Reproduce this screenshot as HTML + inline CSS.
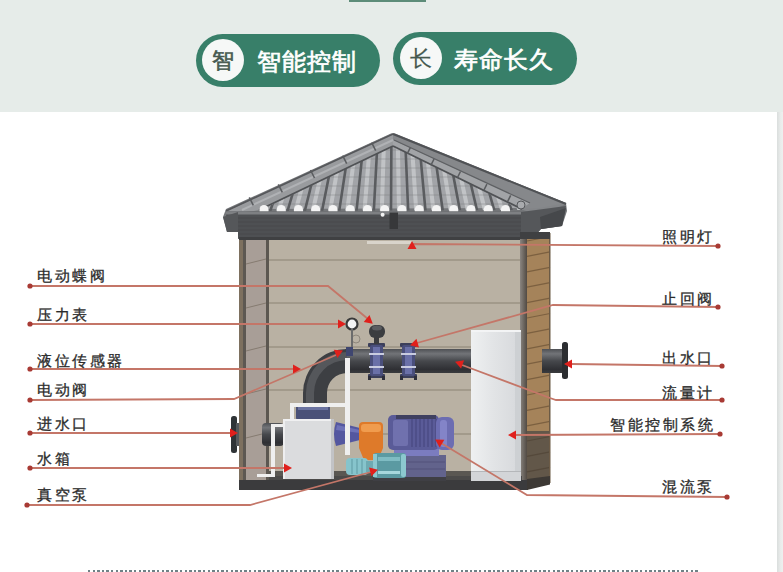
<!DOCTYPE html>
<html><head><meta charset="utf-8">
<style>
html,body{margin:0;padding:0;}
body{width:783px;height:572px;position:relative;overflow:hidden;background:#fff;font-family:"Liberation Sans",sans-serif;}
.band{position:absolute;left:0;top:0;width:783px;height:112px;background:#e6ece9;}
.topbar{position:absolute;left:349px;top:0;width:77px;height:2px;background:#5d8c79;}
.pill{position:absolute;height:53px;width:184px;border-radius:27px;background:#387f69;}
.circ{position:absolute;width:42px;height:42px;border-radius:50%;background:#f6f8f7;color:#46594f;font-size:22px;line-height:43px;text-align:center;-webkit-text-stroke:0.6px #46594f;}
.ptxt{position:absolute;color:#fff;font-size:24px;line-height:30px;white-space:nowrap;letter-spacing:1px;}
.lbl{position:absolute;color:#2b2b2b;font-size:15px;line-height:16px;letter-spacing:2.6px;white-space:nowrap;-webkit-text-stroke:0.3px #2b2b2b;}
.rstrip{position:absolute;left:777px;top:112px;width:6px;height:460px;background:linear-gradient(90deg,#dadedd,#e9eceb 60%,#eef0ef);}
.dots{position:absolute;left:88px;top:570px;width:611px;height:2px;background:repeating-linear-gradient(90deg,#6f8186 0 2.4px,transparent 2.4px 4.6px);}
svg{position:absolute;left:0;top:0;}
</style></head><body>
<div class="band"></div>
<div class="topbar"></div>
<div class="pill" style="left:196px;top:34px;"></div>
<div class="circ" style="left:202px;top:39px;">智</div>
<div class="ptxt" style="left:257px;top:47px;-webkit-text-stroke:0.7px #fff;">智能控制</div>
<div class="pill" style="left:393px;top:32px;"></div>
<div class="circ" style="left:400px;top:37px;-webkit-text-stroke:0.2px #46594f;">长</div>
<div class="ptxt" style="left:454px;top:45px;-webkit-text-stroke:0.7px #fff;">寿命长久</div>
<div class="rstrip"></div>
<div class="dots"></div>
<svg width="783" height="572" viewBox="0 0 783 572">
<defs>
<linearGradient id="pipev" x1="0" y1="0" x2="0" y2="1"><stop offset="0" stop-color="#4e5054"/><stop offset="0.2" stop-color="#727478"/><stop offset="0.5" stop-color="#46484c"/><stop offset="0.85" stop-color="#2f3034"/><stop offset="1" stop-color="#3a3b3e"/></linearGradient>
<linearGradient id="edgeg" x1="0" y1="0" x2="1" y2="0"><stop offset="0" stop-color="#8a8580"/><stop offset="1" stop-color="#514a43"/></linearGradient>
<linearGradient id="cabg" x1="0" y1="0" x2="1" y2="0"><stop offset="0" stop-color="#eef0f1"/><stop offset="0.5" stop-color="#e2e4e6"/><stop offset="1" stop-color="#d8dadd"/></linearGradient><clipPath id="tri"><polygon points="259,211 393,145 521,210"/></clipPath></defs>
<polygon points="223,217 226,209 391,133.5 395,133.5 566,203 567,211 562,226 541,229 535,235 520,239 238,239 238,232 227,232" fill="#747679"/><polygon points="394,137 566,204 541,216 520,209" fill="#838588"/><polygon points="259,209 393,143 521,208" fill="#a3a5a8"/><g stroke="#c2c4c6" stroke-width="4" clip-path="url(#tri)"><line x1="261.0" y1="211" x2="287.4" y2="140"/><line x1="278.2" y1="211" x2="301.2" y2="140"/><line x1="295.5" y1="211" x2="315.0" y2="140"/><line x1="312.8" y1="211" x2="328.8" y2="140"/><line x1="330.0" y1="211" x2="342.6" y2="140"/><line x1="347.2" y1="211" x2="356.4" y2="140"/><line x1="364.5" y1="211" x2="370.2" y2="140"/><line x1="381.8" y1="211" x2="384.0" y2="140"/><line x1="399.0" y1="211" x2="397.8" y2="140"/><line x1="416.2" y1="211" x2="411.6" y2="140"/><line x1="433.5" y1="211" x2="425.4" y2="140"/><line x1="450.8" y1="211" x2="439.2" y2="140"/><line x1="468.0" y1="211" x2="453.0" y2="140"/><line x1="485.2" y1="211" x2="466.8" y2="140"/><line x1="502.5" y1="211" x2="480.6" y2="140"/><line x1="519.8" y1="211" x2="494.4" y2="140"/></g><g stroke="#7a7c7f" stroke-width="1" clip-path="url(#tri)" opacity="0.45"><line x1="200" y1="150" x2="600" y2="150"/><line x1="200" y1="159" x2="600" y2="159"/><line x1="200" y1="168" x2="600" y2="168"/><line x1="200" y1="177" x2="600" y2="177"/><line x1="200" y1="186" x2="600" y2="186"/><line x1="200" y1="195" x2="600" y2="195"/><line x1="200" y1="204" x2="600" y2="204"/></g><g stroke="#5a5c5f" stroke-width="2.6" clip-path="url(#tri)"><line x1="253.0" y1="211" x2="281.0" y2="140"/><line x1="270.2" y1="211" x2="294.8" y2="140"/><line x1="287.5" y1="211" x2="308.6" y2="140"/><line x1="304.8" y1="211" x2="322.4" y2="140"/><line x1="322.0" y1="211" x2="336.2" y2="140"/><line x1="339.2" y1="211" x2="350.0" y2="140"/><line x1="356.5" y1="211" x2="363.8" y2="140"/><line x1="373.8" y1="211" x2="377.6" y2="140"/><line x1="391.0" y1="211" x2="391.4" y2="140"/><line x1="408.2" y1="211" x2="405.2" y2="140"/><line x1="425.5" y1="211" x2="419.0" y2="140"/><line x1="442.8" y1="211" x2="432.8" y2="140"/><line x1="460.0" y1="211" x2="446.6" y2="140"/><line x1="477.2" y1="211" x2="460.4" y2="140"/><line x1="494.5" y1="211" x2="474.2" y2="140"/><line x1="511.8" y1="211" x2="488.0" y2="140"/></g><polygon points="225,212 393,133 393,146 261,210 245,212" fill="#999b9e"/><line x1="226" y1="211" x2="393" y2="134" stroke="#55575a" stroke-width="1.6"/><line x1="259" y1="210" x2="393" y2="146" stroke="#505255" stroke-width="1.8"/><line x1="242" y1="210" x2="393" y2="140" stroke="#b0b2b5" stroke-width="2"/><polygon points="393,133.5 566,203 540,208 521,209 393,146" fill="#86888b"/><polygon points="393,140 530,203 521,209 393,146" fill="#a2a4a7"/><line x1="393" y1="134" x2="566" y2="204" stroke="#505255" stroke-width="2"/><line x1="393" y1="146" x2="522" y2="209" stroke="#505255" stroke-width="1.8"/><line x1="394" y1="140" x2="530" y2="203" stroke="#5e6063" stroke-width="1.2"/><circle cx="521" cy="205" r="4" fill="#a9abae" stroke="#55575a" stroke-width="1"/><g stroke="#5a5c5f" stroke-width="1.5"><line x1="371.7" y1="142.6" x2="375.7" y2="150.6"/><line x1="410.3" y1="147.6" x2="407.3" y2="153.6"/><line x1="342.7" y1="155.6" x2="346.7" y2="163.6"/><line x1="434.1" y1="158.9" x2="431.1" y2="164.9"/><line x1="310.5" y1="170.0" x2="314.5" y2="178.0"/><line x1="460.5" y1="171.5" x2="457.5" y2="177.5"/><line x1="278.3" y1="184.4" x2="282.3" y2="192.4"/><line x1="486.9" y1="184.1" x2="483.9" y2="190.1"/><line x1="249.3" y1="197.4" x2="253.3" y2="205.4"/><line x1="510.7" y1="195.4" x2="507.7" y2="201.4"/></g><g fill="#f4f4f4"><path d="M259.5,212 v-2.5 a4.5,4.5 0 0 1 9,0 v2.5 z"/><path d="M276.8,212 v-2.5 a4.5,4.5 0 0 1 9,0 v2.5 z"/><path d="M294.0,212 v-2.5 a4.5,4.5 0 0 1 9,0 v2.5 z"/><path d="M311.2,212 v-2.5 a4.5,4.5 0 0 1 9,0 v2.5 z"/><path d="M328.5,212 v-2.5 a4.5,4.5 0 0 1 9,0 v2.5 z"/><path d="M345.8,212 v-2.5 a4.5,4.5 0 0 1 9,0 v2.5 z"/><path d="M363.0,212 v-2.5 a4.5,4.5 0 0 1 9,0 v2.5 z"/><path d="M380.2,212 v-2.5 a4.5,4.5 0 0 1 9,0 v2.5 z"/><path d="M397.5,212 v-2.5 a4.5,4.5 0 0 1 9,0 v2.5 z"/><path d="M414.8,212 v-2.5 a4.5,4.5 0 0 1 9,0 v2.5 z"/><path d="M432.0,212 v-2.5 a4.5,4.5 0 0 1 9,0 v2.5 z"/><path d="M449.2,212 v-2.5 a4.5,4.5 0 0 1 9,0 v2.5 z"/><path d="M466.5,212 v-2.5 a4.5,4.5 0 0 1 9,0 v2.5 z"/><path d="M483.8,212 v-2.5 a4.5,4.5 0 0 1 9,0 v2.5 z"/><path d="M501.0,212 v-2.5 a4.5,4.5 0 0 1 9,0 v2.5 z"/></g><polygon points="226,211.5 522,211.5 522,238.5 238,238.5 238,232 227,232" fill="#4e5053"/><rect x="226" y="211.5" width="296" height="3" fill="#7e8083"/><g stroke="#48494c" stroke-width="1"><line x1="238" y1="218" x2="522" y2="218"/><line x1="238" y1="222" x2="522" y2="222"/><line x1="238" y1="226" x2="522" y2="226"/><line x1="238" y1="230" x2="522" y2="230"/><line x1="238" y1="234" x2="522" y2="234"/></g><polygon points="223,217 238,212 238,232 227,232" fill="#55575a"/><polygon points="521,212 566,206 562,226 541,229 535,236 521,239" fill="#55575a"/><polygon points="540,217 566,208 562,226 541,229" fill="#46484b"/><rect x="389.5" y="212.5" width="8.5" height="16.5" fill="#37383a"/><circle cx="382.6" cy="214.8" r="2" fill="#f2f2f2"/>
<rect x="239" y="239" width="29" height="248" fill="#a89e97"/><rect x="239" y="239" width="4" height="248" fill="#7d705f"/><rect x="243" y="239" width="3" height="248" fill="#5d5852"/><rect x="266" y="239" width="3" height="242" fill="#5c5751"/><g stroke="#857b70" stroke-width="1"><line x1="246" y1="264" x2="266" y2="259"/><line x1="246" y1="308" x2="266" y2="303"/><line x1="246" y1="351" x2="266" y2="346"/><line x1="246" y1="394" x2="266" y2="389"/><line x1="246" y1="438" x2="266" y2="433"/></g><rect x="269" y="239" width="253" height="242" fill="#b9b1a3"/><g stroke="#8c8375" stroke-width="1.2"><line x1="269" y1="260" x2="521" y2="260"/><line x1="269" y1="303" x2="521" y2="303"/><line x1="269" y1="347" x2="521" y2="347"/><line x1="269" y1="390" x2="521" y2="390"/><line x1="269" y1="434" x2="521" y2="434"/></g><rect x="239" y="237" width="296" height="3" fill="#3f4042"/><rect x="367" y="241" width="45" height="3" fill="#d9d4cb"/><rect x="520" y="235" width="7" height="252" fill="url(#edgeg)"/><rect x="527" y="233" width="23" height="198" fill="#a5835a"/><g stroke="#7c6040" stroke-width="1.2"><line x1="527" y1="241.0" x2="550" y2="236.5"/><line x1="527" y1="256.4" x2="550" y2="251.9"/><line x1="527" y1="271.8" x2="550" y2="267.3"/><line x1="527" y1="287.2" x2="550" y2="282.7"/><line x1="527" y1="302.6" x2="550" y2="298.1"/><line x1="527" y1="318.0" x2="550" y2="313.5"/><line x1="527" y1="333.4" x2="550" y2="328.9"/><line x1="527" y1="348.8" x2="550" y2="344.3"/><line x1="527" y1="364.2" x2="550" y2="359.7"/><line x1="527" y1="379.6" x2="550" y2="375.1"/><line x1="527" y1="395.0" x2="550" y2="390.5"/><line x1="527" y1="410.4" x2="550" y2="405.9"/><line x1="527" y1="425.8" x2="550" y2="421.3"/></g><rect x="527" y="431" width="23" height="50" fill="#625749"/><g stroke="#55493b" stroke-width="1.2"><line x1="527" y1="441.0" x2="550" y2="436.5"/><line x1="527" y1="456.4" x2="550" y2="451.9"/><line x1="527" y1="471.8" x2="550" y2="467.3"/></g><rect x="549" y="233" width="1.5" height="250" fill="#6b5a45"/><rect x="520" y="232" width="30" height="7" fill="#3f4042"/><rect x="239" y="480" width="289" height="10" fill="#3b3b3d"/><polygon points="527,479 550,476 550,484.5 527,490" fill="#3d3935"/><rect x="269" y="471" width="203" height="9" fill="#5a5752"/><rect x="269" y="476" width="253" height="4" fill="#4b4a49"/>
<rect x="471" y="330" width="45" height="151" fill="#e2e4e6"/><rect x="471" y="330" width="45" height="151" fill="url(#cabg)"/><rect x="515" y="330" width="6" height="151" fill="#cdd0d3"/><rect x="471" y="330" width="50" height="2" fill="#f3f4f5"/><rect x="471" y="471" width="50" height="10" fill="#d3d5d8"/><rect x="471" y="471" width="50" height="1" fill="#b5b7ba"/><rect x="542" y="349" width="21" height="24" fill="url(#pipev)"/><rect x="562" y="342" width="6" height="37" rx="2.5" fill="#2c2e31"/><rect x="231" y="416" width="6" height="37" rx="2.5" fill="#2f3437"/><rect x="236" y="423" width="3" height="23" fill="#55595c"/><rect x="262" y="423" width="22" height="23" rx="4" fill="url(#pipev)"/><rect x="345" y="349" width="126" height="24" fill="url(#pipev)"/><path d="M303,410 L303,393 A44,44 0 0 1 347,349 L347,373 A20,20 0 0 0 327,393 L327,410 Z" fill="#3d3f43"/><path d="M306,405 L306,393 A41,41 0 0 1 347,352 L347,360 A33,33 0 0 0 314,393 L314,405 Z" fill="#55575b"/><rect x="296" y="404" width="34" height="16" rx="2" fill="#4a5178"/><rect x="298" y="406" width="30" height="4" fill="#6a72a0"/><path d="M336,422 L360,428 L360,440 L336,446 Q332,434 336,422 Z" fill="#5457a0"/><path d="M337,425 L360,430 L360,433 L336,430 Z" fill="#6e72b8"/><g fill="#efefef"><rect x="345" y="358" width="5" height="97"/><rect x="290" y="403" width="60" height="4"/><rect x="290" y="403" width="4" height="17"/><rect x="271" y="424" width="4" height="52"/><rect x="257" y="474" width="18" height="3"/><rect x="271" y="424" width="13" height="3"/></g><rect x="283" y="419" width="51" height="60" fill="#dbdcde"/><rect x="283" y="419" width="51" height="2" fill="#f0f0f1"/><rect x="283" y="419" width="2" height="60" fill="#eeeeef"/><rect x="331" y="419" width="3" height="60" fill="#c2c3c6"/><rect x="368" y="343" width="17" height="4" rx="1" fill="#3c3f5a"/><rect x="368" y="374" width="17" height="4" rx="1" fill="#3c3f5a"/><rect x="370" y="345" width="13" height="31" rx="2" fill="#4a4f7c"/><rect x="373" y="347" width="7" height="27" fill="#6a70a8"/><rect x="369" y="353" width="15" height="2" fill="#c9cce0"/><rect x="369" y="366" width="15" height="2" fill="#c9cce0"/><rect x="368" y="376" width="3" height="4" fill="#2e2f3a"/><rect x="382" y="376" width="3" height="4" fill="#2e2f3a"/><rect x="400" y="343" width="17" height="4" rx="1" fill="#3c3f5a"/><rect x="400" y="374" width="17" height="4" rx="1" fill="#3c3f5a"/><rect x="402" y="345" width="13" height="31" rx="2" fill="#4a4f7c"/><rect x="405" y="347" width="7" height="27" fill="#6a70a8"/><rect x="401" y="353" width="15" height="2" fill="#c9cce0"/><rect x="401" y="366" width="15" height="2" fill="#c9cce0"/><rect x="400" y="376" width="3" height="4" fill="#2e2f3a"/><rect x="414" y="376" width="3" height="4" fill="#2e2f3a"/><rect x="369" y="325" width="16" height="13" rx="6" fill="#3b3d40"/><ellipse cx="377" cy="328" rx="5" ry="2.5" fill="#5a5c60"/><rect x="374" y="337" width="5" height="7" fill="#3b3c3f"/><circle cx="352" cy="324" r="5.5" fill="#f4f4f4" stroke="#3a3a3a" stroke-width="2.2"/><circle cx="356" cy="339" r="4" fill="none" stroke="#8e877c" stroke-width="1"/><rect x="351" y="329" width="2" height="20" fill="#6c6c6c"/><rect x="346" y="347" width="7" height="9" fill="#3f4670"/><rect x="392" y="455" width="54" height="22" fill="#62638c"/><g stroke="#52537a" stroke-width="1"><line x1="393" y1="462" x2="445" y2="462"/><line x1="393" y1="469" x2="445" y2="469"/></g><rect x="394" y="448" width="45" height="8" fill="#7b7cbf"/><rect x="388" y="415" width="51" height="35" rx="5" fill="#5a5b98"/><g stroke="#4a4b84" stroke-width="1.4"><line x1="412" y1="419" x2="412" y2="447"/><line x1="416" y1="419" x2="416" y2="447"/><line x1="420" y1="419" x2="420" y2="447"/><line x1="424" y1="419" x2="424" y2="447"/><line x1="428" y1="419" x2="428" y2="447"/><line x1="432" y1="419" x2="432" y2="447"/><line x1="436" y1="419" x2="436" y2="447"/></g><rect x="393" y="420" width="15" height="26" rx="2" fill="#7071ae"/><rect x="396" y="415" width="40" height="4" fill="#3f4060"/><rect x="436" y="417" width="18" height="33" rx="6" fill="#6c6db2"/><rect x="440" y="420" width="7" height="27" rx="3" fill="#8384c8"/><rect x="373" y="477" width="73" height="4" fill="#3f3f44"/><path d="M359,426 Q359,422 363,422 L379,422 Q383,422 383,426 L383,448 L378,460 L364,460 L359,448 Z" fill="#de7a2a"/><rect x="361" y="424" width="20" height="8" rx="3" fill="#f09c4e"/><rect x="346" y="458" width="22" height="17" rx="4" fill="#86c4cc"/><g stroke="#5e9aa3" stroke-width="1"><line x1="352" y1="459" x2="352" y2="474"/><line x1="357" y1="459" x2="357" y2="474"/><line x1="362" y1="459" x2="362" y2="474"/></g><rect x="366" y="461" width="8" height="11" fill="#6eaab2"/><rect x="373" y="453" width="33" height="25" rx="3" fill="#5b9aa2"/><rect x="373" y="454" width="4" height="23" fill="#8cc8cf"/><rect x="401" y="454" width="5" height="23" rx="2" fill="#8cc8cf"/><rect x="378" y="457" width="22" height="4" fill="#7fbcc3"/><rect x="378" y="471" width="22" height="3" fill="#a6d7dc"/>
<polyline points="30,286 328,286 368,319" fill="none" stroke="#c47668" stroke-width="1.8"/><polyline points="30,324 340,324" fill="none" stroke="#c47668" stroke-width="1.8"/><polyline points="30,369 294,369" fill="none" stroke="#c47668" stroke-width="1.8"/><polyline points="30,400 234,399 336,355" fill="none" stroke="#c47668" stroke-width="1.8"/><polyline points="30,433 230,433" fill="none" stroke="#c47668" stroke-width="1.8"/><polyline points="30,468 285,468" fill="none" stroke="#c47668" stroke-width="1.8"/><polyline points="27,505 250,505 371,472" fill="none" stroke="#c47668" stroke-width="1.8"/><polyline points="718,246 412,244 412,249" fill="none" stroke="#c47668" stroke-width="1.8"/><polyline points="718,307 553,305 417,343" fill="none" stroke="#c47668" stroke-width="1.8"/><polyline points="722,366 571,364" fill="none" stroke="#c47668" stroke-width="1.8"/><polyline points="722,400 556,400 550,398 462,365" fill="none" stroke="#c47668" stroke-width="1.8"/><polyline points="720,434 515,435" fill="none" stroke="#c47668" stroke-width="1.8"/><polyline points="727,497 527,495 441,443" fill="none" stroke="#c47668" stroke-width="1.8"/><polygon points="1,0 -7,-4.5 -7,4.5" transform="translate(372,323) rotate(40)" fill="#e0201c"/><polygon points="1,0 -7,-4.5 -7,4.5" transform="translate(345,324) rotate(0)" fill="#e0201c"/><polygon points="1,0 -7,-4.5 -7,4.5" transform="translate(300,369) rotate(0)" fill="#e0201c"/><polygon points="1,0 -7,-4.5 -7,4.5" transform="translate(342,351) rotate(-24)" fill="#e0201c"/><polygon points="1,0 -7,-4.5 -7,4.5" transform="translate(237,433) rotate(0)" fill="#e0201c"/><polygon points="1,0 -7,-4.5 -7,4.5" transform="translate(291,468) rotate(0)" fill="#e0201c"/><polygon points="1,0 -7,-4.5 -7,4.5" transform="translate(377,470) rotate(-15)" fill="#e0201c"/><polygon points="1,0 -7,-4.5 -7,4.5" transform="translate(412,242) rotate(-90)" fill="#e0201c"/><polygon points="1,0 -7,-4.5 -7,4.5" transform="translate(411,345) rotate(164)" fill="#e0201c"/><polygon points="1,0 -7,-4.5 -7,4.5" transform="translate(565,364) rotate(180)" fill="#e0201c"/><polygon points="1,0 -7,-4.5 -7,4.5" transform="translate(456,362) rotate(200)" fill="#e0201c"/><polygon points="1,0 -7,-4.5 -7,4.5" transform="translate(509,435) rotate(180)" fill="#e0201c"/><polygon points="1,0 -7,-4.5 -7,4.5" transform="translate(436,440) rotate(211)" fill="#e0201c"/><circle cx="30" cy="286" r="2.6" fill="#a83a34"/><circle cx="30" cy="324" r="2.6" fill="#a83a34"/><circle cx="30" cy="369" r="2.6" fill="#a83a34"/><circle cx="30" cy="400" r="2.6" fill="#a83a34"/><circle cx="30" cy="433" r="2.6" fill="#a83a34"/><circle cx="30" cy="468" r="2.6" fill="#a83a34"/><circle cx="27" cy="505" r="2.6" fill="#a83a34"/><circle cx="718" cy="246" r="2.6" fill="#a83a34"/><circle cx="718" cy="307" r="2.6" fill="#a83a34"/><circle cx="722" cy="366" r="2.6" fill="#a83a34"/><circle cx="722" cy="400" r="2.6" fill="#a83a34"/><circle cx="720" cy="434" r="2.6" fill="#a83a34"/><circle cx="727" cy="497" r="2.6" fill="#a83a34"/>
</svg>
<div class="lbl" style="left:37px;top:268px;">电动蝶阀</div><div class="lbl" style="left:37px;top:307px;">压力表</div><div class="lbl" style="left:37px;top:353px;">液位传感器</div><div class="lbl" style="left:37px;top:382px;">电动阀</div><div class="lbl" style="left:37px;top:416px;">进水口</div><div class="lbl" style="left:37px;top:451px;">水箱</div><div class="lbl" style="left:37px;top:487px;">真空泵</div><div class="lbl" style="left:662px;top:229px;">照明灯</div><div class="lbl" style="left:662px;top:291px;">止回阀</div><div class="lbl" style="left:662px;top:350px;">出水口</div><div class="lbl" style="left:662px;top:385px;">流量计</div><div class="lbl" style="left:610px;top:417px;">智能控制系统</div><div class="lbl" style="left:662px;top:479px;">混流泵</div>
</body></html>
